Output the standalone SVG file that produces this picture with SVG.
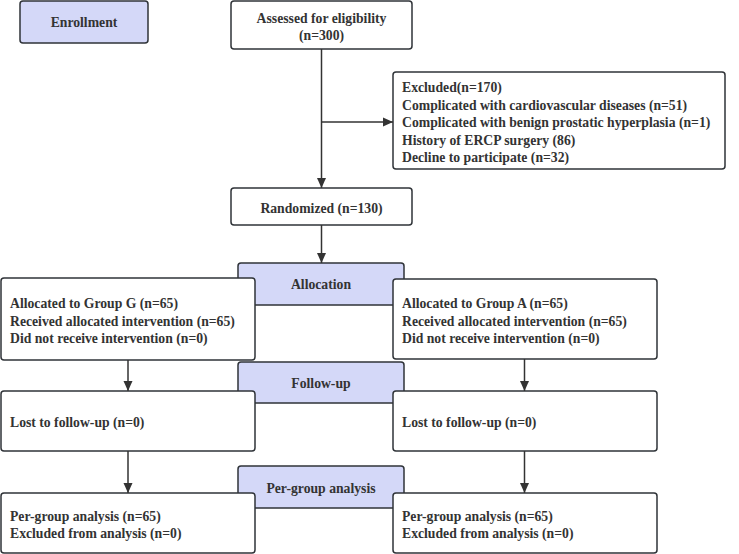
<svg xmlns="http://www.w3.org/2000/svg" width="739" height="554" viewBox="0 0 739 554">
<defs>
<style>
.box{fill:#ffffff;stroke:#2f3338;stroke-width:1.5}
.hdr{fill:#d4d8f8;stroke:#2f3338;stroke-width:1.5}
text{font-family:"Liberation Serif","Times New Roman",serif;font-weight:bold;font-size:13.7px;fill:#333333}
.c{text-anchor:middle}
.conn{stroke:#333333;stroke-width:1.5;fill:none;marker-end:url(#arr)}
</style>
<marker id="arr" markerUnits="userSpaceOnUse" markerWidth="10" markerHeight="10" refX="10" refY="5" orient="auto">
<path d="M0,0.5 L10,5 L0,9.5 z" fill="#333333"/>
</marker>
</defs>
<rect width="739" height="554" fill="#ffffff"/>

<g id="enrollment"><rect class="hdr" x="20" y="1" width="128" height="42" rx="3"/><text class="c" x="84" y="27">Enrollment</text></g>

<g id="allocation"><rect class="hdr" x="238" y="263" width="166" height="42" rx="3"/><text class="c" x="321" y="289">Allocation</text></g>
<g id="followup"><rect class="hdr" x="238" y="362" width="166" height="41" rx="3"/><text class="c" x="321" y="388">Follow-up</text></g>
<g id="pergroup"><rect class="hdr" x="238" y="466" width="166" height="42" rx="3"/><text class="c" x="321" y="493">Per-group analysis</text></g>

<g id="assessed"><rect class="box" x="231" y="1" width="181" height="48" rx="3"/><text class="c" x="321.5" y="23">Assessed for eligibility</text><text class="c" x="321.5" y="40">(n=300)</text></g>

<g id="excluded"><rect class="box" x="393" y="72" width="332" height="97" rx="3"/>
<text x="402" y="92">Excluded(n=170)</text>
<text x="402" y="110">Complicated with cardiovascular diseases (n=51)</text>
<text x="402" y="127">Complicated with benign prostatic hyperplasia (n=1)</text>
<text x="402" y="145">History of ERCP surgery (86)</text>
<text x="402" y="162">Decline to participate (n=32)</text></g>

<g id="randomized"><rect class="box" x="231" y="188" width="181" height="37" rx="3"/><text class="c" x="321.5" y="213">Randomized (n=130)</text></g>

<g id="groupG"><rect class="box" x="1" y="278" width="254" height="82" rx="3"/>
<text x="10" y="308">Allocated to Group G (n=65)</text>
<text x="10" y="326">Received allocated intervention (n=65)</text>
<text x="10" y="343">Did not receive intervention (n=0)</text></g>

<g id="groupA"><rect class="box" x="393" y="279" width="264" height="80" rx="3"/>
<text x="402" y="308">Allocated to Group A (n=65)</text>
<text x="402" y="326">Received allocated intervention (n=65)</text>
<text x="402" y="343">Did not receive intervention (n=0)</text></g>

<g id="lostG"><rect class="box" x="1" y="391" width="254" height="60" rx="3"/><text x="10" y="427">Lost to follow-up (n=0)</text></g>
<g id="lostA"><rect class="box" x="393" y="391" width="264" height="60" rx="3"/><text x="402" y="427">Lost to follow-up (n=0)</text></g>

<g id="analysisG"><rect class="box" x="1" y="493" width="254" height="60" rx="3"/>
<text x="10" y="521">Per-group analysis (n=65)</text>
<text x="10" y="538">Excluded from analysis (n=0)</text></g>
<g id="analysisA"><rect class="box" x="393" y="493" width="264" height="60" rx="3"/>
<text x="402" y="521">Per-group analysis (n=65)</text>
<text x="402" y="538">Excluded from analysis (n=0)</text></g>

<g id="connectors">
<line class="conn" x1="321.5" y1="49" x2="321.5" y2="188"/>
<line class="conn" x1="321.5" y1="122" x2="393" y2="122"/>
<line class="conn" x1="321.5" y1="225" x2="321.5" y2="263"/>
<line class="conn" x1="128" y1="360" x2="128" y2="391"/>
<line class="conn" x1="128" y1="451" x2="128" y2="493"/>
<line class="conn" x1="524.5" y1="359" x2="524.5" y2="391"/>
<line class="conn" x1="524.5" y1="451" x2="524.5" y2="493"/>
</g>
</svg>
